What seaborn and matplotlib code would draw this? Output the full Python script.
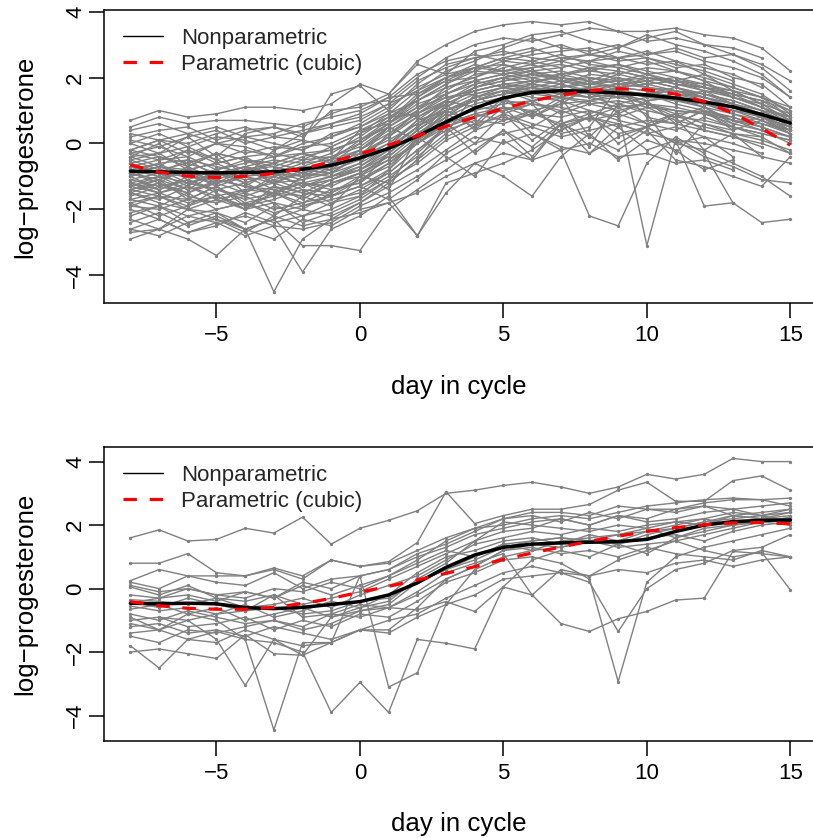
import numpy as np
import pandas as pd
import matplotlib
matplotlib.use("Agg")
import matplotlib.pyplot as plt
import seaborn as sns
from matplotlib.lines import Line2D

nan = float("nan")
days = list(range(-8, 16))

# log-progesterone profiles, non-conceptive cycles (top panel), days -8..15
top_subjects = [
    [0.7, 1.0, 0.8, 0.9, 1.1, 1.1, 1.0, 1.2, 1.8, 1.5, 2.5, 3.0, 3.4, 3.6, 3.7, 3.6, 3.7, 3.4, 3.4, 3.5, 3.3, 3.2, 2.9, 2.2],
    [0.5, 0.8, 0.6, 0.7, 0.7, 0.6, 0.5, 0.9, 1.2, 1.3, 2.0, 2.6, 3.0, 3.2, 3.1, 3.3, 3.5, 3.4, 3.1, 3.2, 3.0, 2.7, 2.4, 1.9],
    [0.2, 0.4, 0.5, 0.1, 0.4, 0.5, 0.3, 0.6, 0.8, 1.2, 1.6, 2.2, 2.5, 2.9, 3.2, 2.9, 2.8, 3.0, 2.7, 2.9, 2.6, 2.7, 2.3, 1.6],
    [0.4, 0.6, 0.3, 0.5, 0.2, 0.3, 0.6, 0.8, 1.0, 1.4, 1.5, 2.0, 2.3, 2.6, 2.8, 3.0, 2.7, 2.9, 3.3, 3.0, 2.8, 2.5, 2.1, 1.4],
    [-0.2, 0.1, 0.3, 0.0, 0.2, 0.0, -0.2, 0.3, 0.5, 0.9, 1.3, 1.8, 2.2, 2.5, 2.4, 2.6, 2.7, 2.5, 2.6, 2.3, 2.4, 2.0, 1.8, 1.1],
    [0.1, -0.1, 0.2, 0.4, 0.0, 0.2, 0.1, -0.1, 0.3, 0.7, 1.4, 1.9, 2.0, 2.3, 2.5, 2.3, 2.5, 2.6, 2.4, 2.5, 2.1, 1.8, 1.5, 0.9],
    [-0.4, -0.3, -0.1, -0.5, -0.2, -0.4, -0.1, 0.0, 0.4, 0.6, 1.1, 1.6, 2.1, 2.2, 2.3, 2.4, 2.2, 2.1, 2.3, 2.2, 2.0, 1.7, 1.4, 0.8],
    [-0.6, -0.4, -0.7, -0.3, -0.5, -0.6, -0.3, -0.2, 0.1, 0.5, 1.0, 1.5, 1.9, 2.1, 2.2, 2.0, 2.3, 2.2, 2.0, 1.9, 2.1, 1.6, 1.2, 0.7],
    [-0.8, -0.6, -0.5, -0.7, -0.9, -0.6, -0.8, -0.5, -0.2, 0.4, 0.9, 1.5, 1.8, 2.0, 2.1, 2.2, 2.0, 1.9, 2.1, 1.8, 1.7, 1.5, 1.3, 0.8],
    [-0.9, -1.1, -0.8, -1.0, -0.7, -0.9, -1.0, -0.6, -0.3, 0.2, 0.8, 1.3, 1.7, 1.9, 2.0, 1.8, 2.1, 2.0, 1.8, 1.9, 1.6, 1.4, 1.1, 0.6],
    [-1.0, -0.8, -1.2, -0.9, -1.1, -1.0, -0.7, -0.8, -0.5, 0.0, 0.6, 1.2, 1.6, 1.8, 1.9, 2.0, 1.9, 1.7, 1.8, 1.6, 1.5, 1.3, 1.0, 0.5],
    [-1.2, -1.0, -0.9, -1.3, -1.0, -1.2, -1.1, -0.9, -0.6, -0.1, 0.5, 1.1, 1.5, 1.7, 1.8, 1.7, 1.8, 1.9, 1.7, 1.5, 1.4, 1.2, 0.9, 0.4],
    [-1.4, -1.2, -1.5, -1.1, -1.3, -1.4, -1.2, -1.0, -0.8, -0.3, 0.4, 1.0, 1.4, 1.6, 1.7, 1.9, 1.7, 1.6, 1.5, 1.6, 1.3, 1.0, 0.8, 0.5],
    [-1.5, -1.7, -1.3, -1.6, -1.4, -1.5, -1.6, -1.2, -0.9, -0.4, 0.3, 0.9, 1.3, 1.5, 1.6, 1.5, 1.7, 1.6, 1.4, 1.3, 1.2, 0.9, 0.7, 0.3],
    [-1.7, -1.5, -1.8, -1.6, -1.9, -1.7, -1.4, -1.5, -1.1, -0.6, 0.1, 0.8, 1.2, 1.4, 1.5, 1.6, 1.5, 1.4, 1.5, 1.2, 1.0, 0.8, 0.5, 0.2],
    [-1.9, -2.0, -1.7, -1.8, -1.6, -2.0, -1.8, -1.6, -1.3, -0.8, 0.0, 0.7, 1.1, 1.3, 1.6, 1.4, 1.3, 1.5, 1.2, 1.1, 0.9, 0.7, 0.4, 0.0],
    [-0.7, -0.9, -1.0, -0.8, -1.2, -0.9, -1.1, -0.7, -0.4, 0.2, 1.0, 1.7, 2.0, 2.4, 2.1, 1.9, 1.8, 2.0, 1.7, 1.6, 1.4, 1.1, 0.8, 0.4],
    [-1.1, -0.9, -1.0, -1.2, -0.8, -1.1, -0.9, -0.6, 0.0, 0.6, 1.2, 1.5, 1.9, 1.7, 1.6, 1.8, 1.5, 1.7, 1.6, 1.4, 1.6, 1.2, 0.9, nan],
    [-0.5, -0.8, -0.6, -0.9, -0.7, -0.5, -0.6, -0.3, 0.2, 0.8, 1.3, 1.8, 2.3, 2.6, 2.5, 2.7, 2.4, 2.3, 2.5, 2.2, 1.9, 1.4, nan, nan],
    [-1.3, -1.5, -1.2, -1.4, -1.6, -1.3, -1.5, -1.1, -0.7, -0.2, 0.5, 1.0, 1.3, 1.6, 1.4, 1.3, 1.6, 1.5, 1.3, 1.4, 1.1, 0.7, 0.6, 0.4],
    [-0.3, -0.5, -0.2, -0.6, -0.4, -0.3, -0.5, -0.1, 0.3, 0.9, 1.6, 2.0, 2.4, 2.2, 2.0, 2.1, 2.3, 1.9, 2.0, 1.8, 1.7, 1.6, 1.2, 0.9],
    [-0.9, -0.7, -0.8, -0.6, -1.0, -0.8, -0.5, -0.4, -0.1, 0.5, 1.1, 1.4, 1.6, 1.8, 1.7, 1.6, 1.7, 1.8, 1.9, 1.7, 1.5, 1.3, 1.0, 0.6],
    [-2.1, -1.9, -2.2, -2.0, -1.8, -2.1, -1.9, -1.7, -1.5, -1.0, -0.4, 0.3, 0.8, 1.0, 1.2, 1.1, 0.9, 1.2, 1.0, 0.8, 0.7, 0.5, 0.3, 0.1],
    [-2.4, -2.1, -2.5, -2.2, -2.6, -2.3, -2.0, -2.2, -1.8, -1.3, -0.8, -0.2, 0.4, 0.7, 0.9, 0.6, 0.8, 0.5, 0.7, 0.6, 0.4, 0.2, 0.0, -0.3],
    [-2.9, -2.6, -2.2, -2.4, -2.8, -2.5, -2.6, -2.4, -1.9, -1.5, -1.0, -0.5, 0.0, 0.3, 0.5, 0.2, 0.4, 0.6, 0.3, 0.1, 0.0, -0.2, -0.4, nan],
    [-1.6, -1.3, -1.1, -1.4, -1.2, -0.9, -1.3, -1.0, -0.7, -0.1, 0.7, 1.3, 1.8, 2.0, 1.8, 2.1, 1.9, 2.2, 2.0, 1.8, 1.6, 1.5, 1.1, 0.7],
    [-0.8, -1.0, -1.2, -1.0, -0.8, -0.7, -0.9, -1.0, -0.6, 0.3, 0.9, 1.4, 1.5, 1.7, 1.5, 1.4, 1.6, 1.4, 1.5, 1.3, 1.2, 1.0, 0.9, 0.6],
    [-1.2, -1.4, -1.0, -1.1, -1.3, -1.5, -1.2, -1.3, -0.9, -0.5, 0.2, 0.7, 1.0, 1.2, 1.3, 1.4, 1.2, 1.3, 1.1, 1.0, 0.9, 0.6, 0.4, 0.2],
    [-0.2, -0.4, -0.6, -0.3, -0.5, -0.7, -0.4, -0.2, 0.1, 0.6, 1.4, 2.0, 2.2, 2.1, 2.3, 2.5, 2.3, 2.4, 2.2, 2.0, 1.8, 1.5, 1.3, 1.0],
    [-1.8, -1.6, -1.9, -1.4, -1.7, -1.5, -1.8, -1.4, -1.2, -0.6, 0.0, 0.6, 0.9, 1.1, 1.0, 1.2, 1.3, 1.1, 1.2, 1.0, 0.9, 0.8, 0.5, 0.2],
    [0.0, 0.3, -0.1, 0.2, 0.1, -0.2, 0.3, 0.5, 0.7, 1.2, 1.9, 2.3, 2.6, 2.8, 2.6, 2.5, 2.7, 2.6, 2.8, 2.5, 2.3, 2.1, 1.7, nan],
    [-1.4, -1.6, -1.7, -1.3, -1.8, -1.6, -1.3, -1.1, -0.8, -0.4, 0.3, 0.8, 1.4, 1.6, 1.3, 1.5, 1.4, 1.2, 1.4, 1.5, 1.3, 1.1, 0.9, 0.7],
    [-0.9, -1.2, -0.7, -1.1, -1.3, -0.8, -1.0, -0.9, -0.3, 0.1, 0.6, 1.1, 1.7, 2.0, 2.2, 1.9, 2.0, 1.8, 1.9, 1.7, 1.4, 1.2, 0.8, 0.5],
    [-2.3, -2.6, -2.0, -2.1, -2.4, -1.9, -2.2, -1.8, -1.4, -0.9, -0.2, 0.4, 0.7, 0.6, 0.9, 0.8, 1.0, 0.7, 0.5, 0.9, 0.6, 0.3, 0.1, -0.2],
    [-0.5, -0.3, -0.8, -0.6, -0.4, -0.9, -0.7, -0.4, 0.0, 0.6, 1.3, 1.7, 1.9, 2.1, 1.9, 2.0, 1.8, 2.1, 1.9, 2.0, 1.7, 1.4, 1.2, nan],
    [-1.7, -1.9, -1.5, -2.0, -1.8, -2.2, -1.6, -1.9, -1.0, -0.3, 0.4, 1.0, 1.3, 1.5, 1.8, 1.6, 1.4, 1.7, 1.6, 1.3, 1.1, 0.9, 0.6, 0.3],
    [-1.1, -1.3, -1.5, -1.2, -1.0, -1.4, -1.6, -1.2, -1.0, -0.5, 0.0, 0.5, 0.9, 0.7, 1.0, 0.5, 0.8, 1.1, 0.6, 0.9, 0.4, 0.2, -0.1, nan],
    [-0.3, -0.1, -0.4, 0.0, -0.3, -0.1, -0.2, 0.2, 0.5, 1.0, 1.8, 2.4, 2.6, 2.7, 2.9, 2.6, 2.5, 2.8, 2.6, 2.4, 2.2, 1.9, nan, nan],
    [-2.6, -2.3, -2.7, -2.5, -2.1, -2.4, -2.2, -2.0, -1.6, -1.1, -0.3, 0.5, 0.8, 1.1, 0.8, 1.3, 1.0, 0.8, 1.1, 0.7, 0.5, 0.3, 0.2, -0.3],
    [-0.7, -0.5, -0.4, -0.8, -0.6, -0.4, -0.3, -0.6, -0.2, 0.3, 0.8, 1.2, 1.6, 1.8, 1.6, 1.7, 1.9, 1.6, 1.5, 1.7, 1.5, 1.2, 1.0, 0.8],
    [-1.0, -0.7, -0.9, -1.1, -0.8, -1.2, -0.8, -0.9, -0.4, 0.0, 0.7, 1.0, 1.3, 1.5, 1.7, 1.5, 1.4, 1.5, 1.3, 1.4, 1.2, 1.0, 0.7, 0.4],
    [-1.5, -1.2, -1.6, -1.8, -1.4, -1.2, -1.5, -1.6, -1.1, -0.7, 0.1, 0.6, 1.1, 1.3, 1.2, 1.0, 1.3, 1.4, 1.2, 0.9, 1.0, 0.7, 0.5, nan],
    [-1.8, -2.2, -1.9, -1.6, -2.0, -1.8, -2.4, -2.1, -1.7, -1.1, -0.6, 0.1, 0.5, 0.9, 0.6, 0.4, 0.8, 0.6, 0.3, 0.5, 0.2, 0.0, -0.3, nan],
    [-0.9, -0.6, -1.1, -0.8, -0.5, -0.9, -0.6, -0.5, 0.1, 0.7, 1.5, 1.9, 2.3, 2.2, 2.4, 2.1, 2.2, 2.4, 2.1, 1.9, 1.8, 1.6, 1.4, 1.0],
    [-1.3, -1.1, -1.4, -1.2, -1.5, -1.0, -1.2, -1.4, -1.2, -0.3, 0.4, 1.0, 1.4, 1.7, 1.9, 1.8, 1.6, 1.8, 1.7, 1.6, 1.4, 1.1, 0.8, 0.3],
    [0.3, 0.1, 0.0, 0.3, 0.5, 0.2, 0.4, 0.6, 0.9, 1.4, 2.1, 2.5, 2.7, 2.5, 2.7, 2.8, 2.9, 2.6, 2.7, 2.8, 2.5, 2.3, 2.0, 1.4],
    [-1.4, -1.1, -1.7, -1.3, -1.9, -1.5, -1.2, -1.6, -1.3, -0.9, -0.2, 0.5, -0.3, 0.4, -0.4, 0.6, 0.9, 0.0, 0.5, 0.8, -0.2, 0.3, -0.4, -0.6],
    [-1.9, -1.6, -2.0, -1.7, -1.5, -1.8, -2.0, -1.5, -1.0, -1.2, -0.5, 0.6, 0.0, 0.9, 0.1, 0.7, -0.1, 1.2, 0.9, -0.3, 0.6, 0.4, nan, nan],
    [-0.6, -0.9, -0.5, -1.0, -0.7, -1.2, -0.9, -0.7, -0.4, 0.5, 0.1, 1.0, 0.6, 1.4, 0.8, 1.2, 1.7, 0.9, 1.3, 0.6, 1.0, 0.5, 0.3, 0.1],
    [-2.2, -1.9, -2.4, -2.1, -2.6, -2.9, -2.3, -2.5, -2.0, -1.8, -2.8, -1.2, -0.9, -0.6, -0.2, 0.4, 0.8, 0.3, 0.5, 0.0, 0.2, -0.4, nan, nan],
    [-1.2, -1.5, -1.3, -1.7, -2.0, -1.5, -1.9, -1.6, -1.3, -1.7, -1.1, -0.3, 0.2, 0.0, 0.3, -0.1, -0.3, 0.5, -0.2, 0.1, -0.4, -0.7, -1.1, -1.2],
    [-0.4, -0.7, -0.2, -0.5, -0.8, -0.6, -0.3, -0.5, 0.4, 0.8, 0.9, 1.3, 1.1, 1.0, 1.3, 0.9, 1.2, 1.0, 1.2, 0.8, 1.1, 0.6, 0.8, 0.5],
    [-2.6, -2.8, -2.4, -2.3, -2.7, -2.2, -2.5, -2.3, -2.1, -1.8, -1.5, -1.0, -0.6, -0.3, -0.5, -0.2, 0.0, -0.4, -0.3, -0.6, -0.5, -0.8, nan, nan],
    [-0.9, -1.1, -0.8, -1.2, -1.0, -0.9, -1.3, -1.1, -0.8, -0.2, 0.5, 1.3, 1.7, 1.9, 2.1, 2.0, 1.8, 1.7, 2.0, 1.9, 1.7, 1.4, 1.1, 0.8],
    [-0.2, 0.1, -0.3, 0.0, -0.1, -0.4, 0.0, 0.2, 0.6, 1.1, 1.7, 2.1, 2.3, 2.4, 2.2, 2.3, 2.5, 2.3, 2.1, 2.2, 1.9, 1.7, 1.4, 1.1],
    [-1.5, -1.8, -2.0, -2.3, -2.6, -4.5, -2.9, -2.3, -1.8, -1.2, -0.5, 0.2, 0.6, 0.8, 0.5, 1.0, 0.7, 0.9, 0.6, 0.4, 0.8, 0.5, 0.2, nan],
    [-2.0, -2.3, -2.7, -2.4, -2.2, -2.5, -3.9, -2.6, -2.2, -1.6, -2.8, -1.5, -0.6, -1.0, -1.6, -0.4, 0.3, -0.5, 0.1, -0.2, -0.8, -0.5, nan, nan],
    [-2.7, -2.6, -2.9, -3.4, -2.6, -2.3, -3.1, -3.1, -3.25, -2.0, -1.4, -0.8, -0.2, 0.4, -0.1, 0.6, -0.3, 0.2, 0.5, 0.0, -0.2, -0.6, -1.0, -1.6],
    [-1.3, -1.0, -1.4, -0.9, -1.2, -1.6, -1.0, -0.8, -0.2, 0.5, 0.1, 1.2, 0.4, 1.1, 0.3, -0.2, -2.2, -2.5, -0.6, 0.2, -0.3, -1.8, nan, nan],
    [-0.6, -0.9, -1.3, -0.8, -1.5, -1.1, -1.4, -1.8, -1.6, -0.8, 0.2, 0.9, 0.5, 1.3, 0.9, 1.4, 0.2, 1.0, -3.1, 0.1, -1.9, -1.8, -2.4, -2.3],
    [-1.0, -1.4, -1.1, -1.5, -2.0, -1.3, -1.7, -1.2, -0.9, -1.4, 0.2, -0.4, -1.0, 0.1, -0.5, 0.6, 0.2, -0.2, 0.4, -0.5, -0.7, -1.0, -1.3, -0.4],
    [-0.4, 0.0, -0.7, -0.3, -1.0, -0.2, 0.1, 1.5, 1.75, 1.0, 0.8, 0.3, 1.5, 0.9, 1.2, 0.3, 0.5, 1.7, 0.8, 0.6, 1.0, 0.4, 0.7, 0.3],
    [0.0, -0.3, 0.2, -0.4, 0.3, 0.5, 0.2, 1.0, 1.1, 1.5, 2.4, 2.1, 2.8, 3.0, 3.3, 3.4, 3.1, 2.9, 3.2, 3.4, 3.0, 2.9, 2.6, nan],
]

# conceptive cycles (bottom panel)
bottom_subjects = [
    [1.6, 1.85, 1.5, 1.55, 1.9, 1.75, 2.25, 1.4, 1.9, 2.15, 2.45, 3.0, 3.1, 3.25, 3.35, 3.2, 3.0, 3.2, 3.6, 3.45, 3.6, 4.1, 4.0, 4.0],
    [0.8, 0.8, 1.1, 0.5, 0.4, 0.65, 0.4, 0.9, 0.7, 0.85, 1.45, 3.05, 2.05, 2.3, 2.5, 2.5, 2.65, 3.1, 3.35, 2.75, 2.75, 3.4, 3.55, 3.1],
    [-0.9, -1.3, -0.8, -1.0, -1.6, -4.45, -1.7, -1.7, -1.3, -1.3, -0.6, 0.3, 0.7, 1.2, 1.4, 1.3, 1.5, 1.4, 1.7, 1.9, 2.1, 2.3, 2.2, 2.4],
    [-1.1, -1.3, -1.0, -1.6, -3.05, -1.6, -2.1, -0.9, -0.6, -0.4, 0.3, 0.8, 1.5, 1.8, 1.9, 2.2, 2.0, 2.3, 2.2, 2.5, 2.6, 2.3, 2.4, 2.5],
    [-1.8, -2.5, -1.6, -1.35, -1.6, -1.7, -2.0, -3.9, -2.95, -3.9, -1.6, -1.72, -1.9, 0.05, -0.2, 0.6, 0.4, 0.9, 1.2, 1.5, 1.7, 1.9, 2.1, 2.2],
    [-2.0, -1.9, -2.05, -2.2, -1.45, -2.05, -2.1, -1.7, 0.4, -3.1, -2.65, -0.5, 0.6, 1.0, 1.2, 1.5, 1.6, 1.7, 1.8, 2.0, 2.2, 2.4, 2.3, 2.5],
    [-0.4, -0.6, -0.3, -0.5, -0.7, -0.2, -0.9, -0.8, -0.5, -0.6, -0.67, -0.41, -0.72, 0.06, 0.9, 1.2, 1.0, 1.4, 1.1, 1.6, 1.9, 2.0, 2.2, 2.3],
    [0.25, 0.6, 0.4, 0.4, 0.4, 0.6, 0.3, 0.9, 0.7, 0.8, 1.2, 1.6, 1.9, 2.0, 2.2, 2.3, 2.2, 2.4, 2.6, 2.7, 2.8, 2.85, 2.8, 2.6],
    [0.1, -0.1, 0.0, -0.2, -0.1, -0.3, 0.2, 0.0, 0.4, 0.6, 1.0, 1.3, 1.7, 1.9, 2.1, 2.2, 2.0, 2.3, 2.1, 2.2, 2.4, 2.5, 2.3, 2.4],
    [0.05, -0.2, 0.1, -0.3, -0.4, -0.2, -0.5, -0.3, -0.1, 0.3, 0.7, 1.1, 1.5, 2.1, 2.0, 1.9, 1.8, 2.0, 1.9, 2.1, 2.0, 2.3, 2.2, 2.2],
    [-0.35, -0.4, -0.5, -0.3, -0.6, -0.5, -0.3, -0.6, -0.2, 0.1, 0.4, 0.9, 1.4, 1.6, 1.8, 1.7, 1.9, 1.8, 2.0, 2.1, 2.2, 2.0, 2.1, 2.25],
    [-0.55, -0.7, -0.6, -0.8, -0.5, -0.9, -0.7, -0.4, -0.6, -0.2, 0.5, 1.0, 1.2, 1.5, 1.6, 1.4, 1.7, 1.5, 1.8, 1.9, 2.1, 2.2, 2.3, 2.1],
    [-0.65, -0.5, -0.8, -0.6, -1.0, -0.8, -0.6, -0.9, -0.7, -0.5, 0.2, 0.6, 0.9, 1.3, 1.5, 1.6, 1.5, 1.7, 1.9, 1.6, 1.8, 2.0, 2.1, 2.0],
    [-0.8, -1.0, -0.7, -0.9, -1.1, -1.0, -1.2, -0.8, -0.9, -0.6, -0.1, 0.5, 0.8, 1.1, -0.2, -1.1, -1.35, -0.95, -0.72, -0.36, -0.3, 1.17, 1.1, 1.0],
    [-1.0, -0.9, -1.2, -1.1, -0.9, -1.3, -1.0, -1.2, -0.8, -0.9, -0.4, 0.2, 0.5, 0.9, 1.0, 0.8, 0.3, -2.93, 0.2, 1.0, 1.3, 1.5, 1.7, 1.9],
    [-1.2, -1.1, -1.4, -1.3, -1.5, -1.2, -1.4, -1.6, -1.3, -1.0, -0.8, -0.3, 0.1, 0.5, 0.7, 0.5, 0.2, -1.35, 0.0, 0.6, 0.8, 1.2, 1.3, 1.7],
    [-1.4, -1.3, -1.6, -1.7, -1.3, -1.6, -1.8, -1.7, -1.3, -1.4, -0.9, -0.5, -0.2, 0.3, 0.4, 0.5, 0.4, 0.6, 0.5, 0.8, 0.9, 0.7, 0.9, 1.0],
    [-0.45, -0.3, -0.2, -0.4, -0.1, -0.3, 0.1, -0.2, 0.1, 0.4, 0.9, 1.5, 1.9, 2.2, 2.3, 2.1, 2.4, 2.2, 2.5, 2.4, 2.6, 2.5, 2.6, 2.7],
    [nan, -0.9, -1.0, -0.8, -0.7, -0.6, -0.8, -0.7, -0.4, -0.3, 0.2, 0.6, 1.0, 1.4, 1.2, 1.3, 1.5, 1.4, 1.6, 1.7, 1.5, 1.8, 2.0, 2.1],
    [-0.2, -0.3, 0.0, -0.2, -0.3, 0.0, -0.1, 0.2, 0.0, 0.4, 0.8, 1.2, 1.0, 1.4, 1.5, 1.6, 1.5, 1.3, 1.4, 1.5, 1.2, 1.0, 1.15, -0.04],
    [-1.5, -1.7, -1.3, -1.4, -1.2, -1.0, -1.3, -1.1, -0.7, -0.6, -0.2, 0.3, 0.7, 1.2, 1.3, 1.1, 1.2, 1.0, 1.3, 1.1, 1.0, 0.9, 1.2, 1.0],
    [0.2, 0.0, 0.4, 0.2, 0.1, 0.5, 0.0, 0.3, 0.4, 0.6, 1.1, 1.4, 1.8, 2.2, 2.4, 2.4, 2.3, 2.6, 2.5, 2.5, 2.7, 2.8, 2.8, 2.85],
]

# fitted mean curves
top_nonparametric = [-0.84, -0.86, -0.88, -0.89, -0.88, -0.86, -0.78, -0.66, -0.44, -0.15, 0.22, 0.65,
                     1.07, 1.38, 1.55, 1.60, 1.58, 1.53, 1.47, 1.38, 1.26, 1.11, 0.88, 0.62]
top_cubic = [-0.65, -0.87, -0.99, -1.03, -1.00, -0.91, -0.76, -0.56, -0.32, -0.05, 0.23, 0.52,
             0.80, 1.06, 1.29, 1.47, 1.60, 1.66, 1.63, 1.50, 1.27, 0.92, 0.46, -0.05]
bottom_nonparametric = [-0.46, -0.48, -0.46, -0.48, -0.60, -0.63, -0.59, -0.50, -0.41, -0.20, 0.18, 0.67,
                        1.06, 1.30, 1.40, 1.44, 1.46, 1.48, 1.55, 1.80, 2.00, 2.11, 2.15, 2.16]
bottom_cubic = [-0.41, -0.54, -0.62, -0.65, -0.65, -0.59, -0.47, -0.31, -0.11, 0.07, 0.27, 0.48,
                0.69, 0.92, 1.12, 1.31, 1.49, 1.65, 1.80, 1.92, 2.01, 2.07, 2.08, 2.04]

legend_labels = ["Nonparametric", "Parametric (cubic)"]
x_label = "day in cycle"
y_label = "log\u2212progesterone"
x_ticks = [-5, 0, 5, 10, 15]
y_ticks = [-4, -2, 0, 2, 4]

for grp in (top_subjects, bottom_subjects):
    for i, s in enumerate(grp):
        assert len(s) == len(days), (i, len(s))

GRAY = "#808080"
DASH = (0, (4.2, 4.0))

sns.set_theme(style="ticks")
plt.rcParams["font.family"] = ["Liberation Sans", "DejaVu Sans"]
plt.rcParams["axes.unicode_minus"] = True

W, H = 813, 838
fig = plt.figure(figsize=(W / 100, H / 100), dpi=100)
ax_top = fig.add_axes([104 / W, 1 - 303.3 / H, 712.7 / W, 293.3 / H])
ax_bot = fig.add_axes([104 / W, 1 - 740.7 / H, 712.7 / W, 293.4 / H])


def to_long(subjects):
    rows = []
    for i, s in enumerate(subjects):
        for d, v in zip(days, s):
            rows.append((i, d, v))
    return pd.DataFrame(rows, columns=["subject", "day", "value"]).dropna()


def panel(ax, subjects, npar, cubic, ylim):
    df = to_long(subjects)
    sns.lineplot(data=df, x="day", y="value", units="subject", estimator=None,
                 color=GRAY, lw=1.0, marker="o", markersize=2.4, markeredgewidth=0,
                 legend=False, ax=ax)
    sns.lineplot(x=days, y=npar, color="black", lw=2.5, ax=ax)
    sns.lineplot(x=days, y=cubic, color="red", lw=2.3, linestyle=DASH, ax=ax)

    ax.set_xlim(-8.92, 15.92)
    ax.set_ylim(*ylim)
    ax.set_xticks(x_ticks)
    ax.set_yticks(y_ticks)
    ax.tick_params(axis="both", direction="out", length=10.8, width=1.1,
                   color="black", labelsize=16, labelcolor="black")
    ax.tick_params(axis="x", pad=5)
    ax.tick_params(axis="y", pad=2)
    for lab in ax.get_yticklabels():
        lab.set_rotation(90)
        lab.set_va("center")
        lab.set_ha("right")
    for sp in ax.spines.values():
        sp.set_visible(True)
        sp.set_linewidth(1.1)
        sp.set_color("black")

    ax.set_xlabel(x_label, fontsize=18.6, color="black")
    ax.set_ylabel(y_label, fontsize=18.6, color="black")
    ax.xaxis.label.set_va("center")
    ax.yaxis.label.set_va("center")
    ax.xaxis.set_label_coords((459 - 104) / 712.7, -0.2855)
    ax.yaxis.set_label_coords((25 - 104) / 712.7, 0.5)

    handles = [Line2D([], [], color="black", lw=1.0),
               Line2D([], [], color="red", lw=2.3, linestyle=DASH)]
    ax.legend(handles, legend_labels, loc="upper left", bbox_to_anchor=(0.0262, 0.94),
              frameon=False, fontsize=16, handlelength=1.8, handletextpad=0.84,
              borderpad=0, borderaxespad=0, labelspacing=0.24)


panel(ax_top, top_subjects, top_nonparametric, top_cubic, (-4.85, 4.05))
panel(ax_bot, bottom_subjects, bottom_nonparametric, bottom_cubic, (-4.79, 4.45))

fig.savefig("out.png", dpi=100, facecolor="white")
